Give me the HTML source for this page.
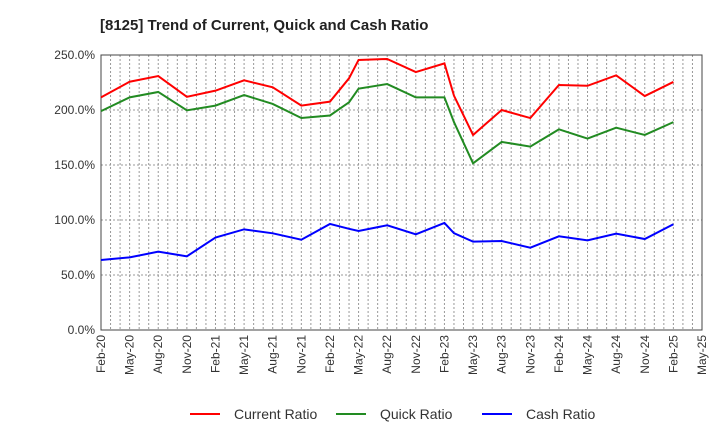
<!DOCTYPE html>
<html><head><meta charset="utf-8"><style>
body{margin:0;background:#fff;font-family:"Liberation Sans",sans-serif}
</style></head><body>
<svg id="c" width="720" height="440" xmlns="http://www.w3.org/2000/svg">
<text x="100" y="30" font-size="15" font-weight="bold" fill="#222">[8125]  Trend of Current, Quick and Cash Ratio</text>
<g id="grid"></g><g id="axes"></g><g id="series"></g><g id="legend"></g>
</svg>
<script>
const months=[0,3,6,9,12,15,18,21,24,26,27,30,33,36,37,39,42,45,48,51,54,57,60];
const currentRatio=[211.5,225.7,230.9,212,217.6,227,220.6,204,207.6,228.8,245.5,246.4,234.5,242.4,213,177.3,200,192.7,222.7,222,231.5,212.7,225.5];
const quickRatio=[199,211.5,216.4,199.7,204,213.6,205.5,192.7,195,207,219.4,223.6,211.5,211.5,189,151.5,171,166.7,182.4,174,183.9,177.3,189];
const cashRatio=[63.6,66,71.2,67,84,91.5,87.9,82.1,96.4,92,90,95.2,87,97.3,88,80.3,80.9,74.8,85.2,81.5,87.6,82.7,96.1];
const yTicks=[0,50,100,150,200,250];
const xLabels=["Feb-20","May-20","Aug-20","Nov-20","Feb-21","May-21","Aug-21","Nov-21","Feb-22","May-22","Aug-22","Nov-22","Feb-23","May-23","Aug-23","Nov-23","Feb-24","May-24","Aug-24","Nov-24","Feb-25","May-25"];
const L=101,R=702,T=55,B=330,NM=63;
const xs=m=>L+(R-L)*m/NM, ys=v=>B-(B-T)*v/250;
const NS="http://www.w3.org/2000/svg";
function mk(t,a,p){const e=document.createElementNS(NS,t);for(const k in a)e.setAttribute(k,a[k]);p.appendChild(e);return e;}
const g=document.getElementById('grid'),ax=document.getElementById('axes'),se=document.getElementById('series'),lg=document.getElementById('legend');
for(let m=1;m<NM;m++){const l=mk('line',{x1:xs(m),x2:xs(m),y1:T,y2:B,stroke:'#999','stroke-dasharray':'2,2','stroke-width':1},g);

}
yTicks.forEach(v=>{const l=mk('line',{x1:L,x2:R,y1:ys(v),y2:ys(v),stroke:'#999','stroke-dasharray':'2,2','stroke-width':1},g);


const t=mk('text',{x:L-6,y:ys(v)+4,'text-anchor':'end','font-size':12,fill:'#333'},ax);t.textContent=v.toFixed(1)+'%';

});
xLabels.forEach((s,i)=>{const x=xs(i*3);const t=mk('text',{x:x+4,y:B+5,'text-anchor':'end','font-size':12,fill:'#333',transform:`rotate(-90 ${x+4} ${B+5})`},ax);t.textContent=s;

});
const fr=mk('rect',{x:L,y:T,width:R-L,height:B-T,fill:'none',stroke:'#444','stroke-width':1},ax);


const S=[["Current Ratio",currentRatio,"#f00","current-ratio-line"],["Quick Ratio",quickRatio,"#228b22","quick-ratio-line"],["Cash Ratio",cashRatio,"#00f","cash-ratio-line"]];
S.forEach((s,k)=>{const p=mk('polyline',{points:s[1].map((v,i)=>xs(months[i])+','+ys(v)).join(' '),fill:'none',stroke:s[2],'stroke-width':2},se);


const lx=[190,336,482][k];
const ll=mk('line',{x1:lx,x2:lx+30,y1:414,y2:414,stroke:s[2],'stroke-width':2},lg);


const t=mk('text',{x:lx+44,y:419,'font-size':14,fill:'#333'},lg);t.textContent=s[0];

});
</script>
</body></html>
